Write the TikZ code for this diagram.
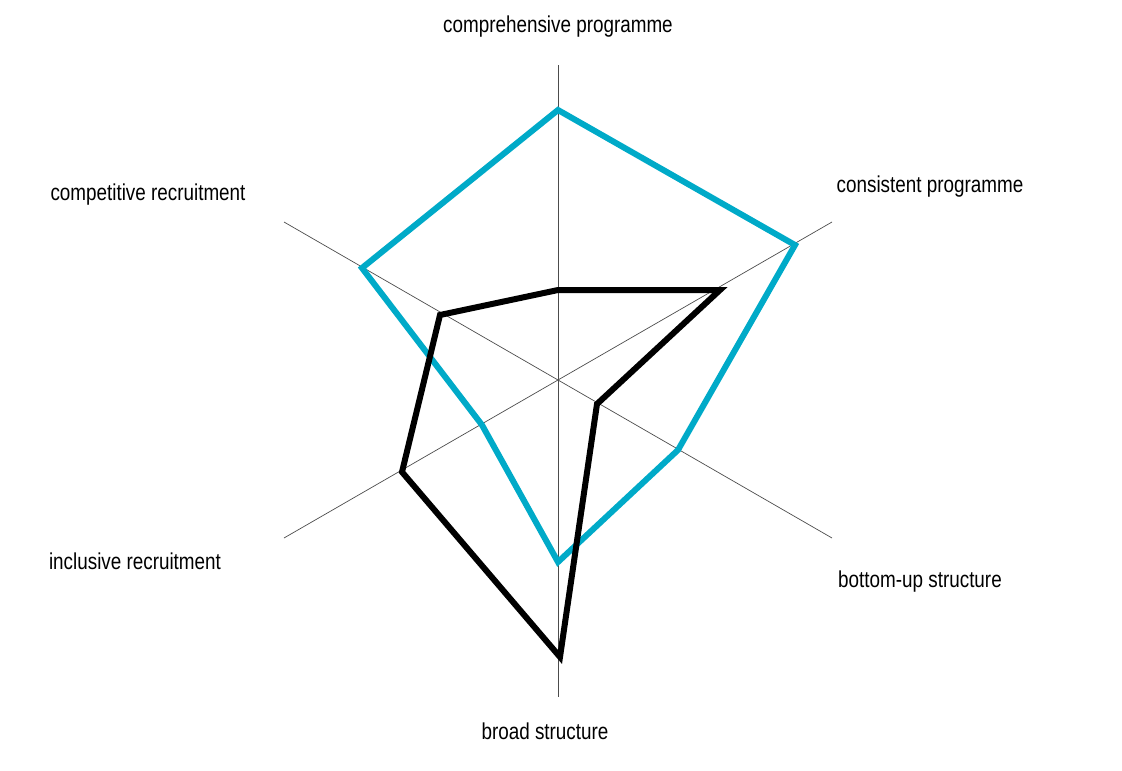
\documentclass[tikz,border=0pt]{standalone}
\usepackage{fontspec}
\setmainfont[FakeStretch=0.82]{Liberation Sans}
\definecolor{cblue}{RGB}{0,170,200}
\begin{document}
\begin{tikzpicture}[x=1pt,y=-1pt,
  axis/.style={draw=black!70,line width=0.7pt},
  lbl/.style={font=\fontsize{23}{27}\selectfont,inner sep=0pt},
  poly/.style={line width=6pt,line join=miter}]
\useasboundingbox (0,0) rectangle (1122,771);
\coordinate (c) at (558,380);
\coordinate (aT) at (558,65);
\coordinate (aB) at (558,697);
\coordinate (aUR) at (832,222);
\coordinate (aUL) at (284,222);
\coordinate (aLR) at (832,538);
\coordinate (aLL) at (284,538);
\draw[axis] (aT) -- (aB);
\draw[axis] (aUL) -- (aLR);
\draw[axis] (aLL) -- (aUR);
\coordinate (b1) at (558,110);
\coordinate (b2) at (795,245);
\coordinate (b3) at (678,450);
\coordinate (b4) at (558,562);
\coordinate (b5) at (482,425);
\coordinate (b6) at (362,268);
\draw[poly,cblue] (b1) -- (b2) -- (b3) -- (b4) -- (b5) -- (b6) -- cycle;
\coordinate (k1) at (558,290);
\coordinate (k2) at (720,290);
\coordinate (k3) at (597,404);
\coordinate (k4) at (560,657);
\coordinate (k5) at (402,472);
\coordinate (k6) at (440,315);
\draw[poly,black] (k1) -- (k2) -- (k3) -- (k4) -- (k5) -- (k6) -- cycle;
\node[lbl] (l1) at (558,27) {comprehensive programme};
\node[lbl] (l2) at (930,187) {consistent programme};
\node[lbl] (l3) at (148,195) {competitive recruitment};
\node[lbl] (l4) at (135,561) {inclusive recruitment};
\node[lbl] (l5) at (920,582) {bottom-up structure};
\node[lbl] (l6) at (545,731) {broad structure};
\end{tikzpicture}
\end{document}
